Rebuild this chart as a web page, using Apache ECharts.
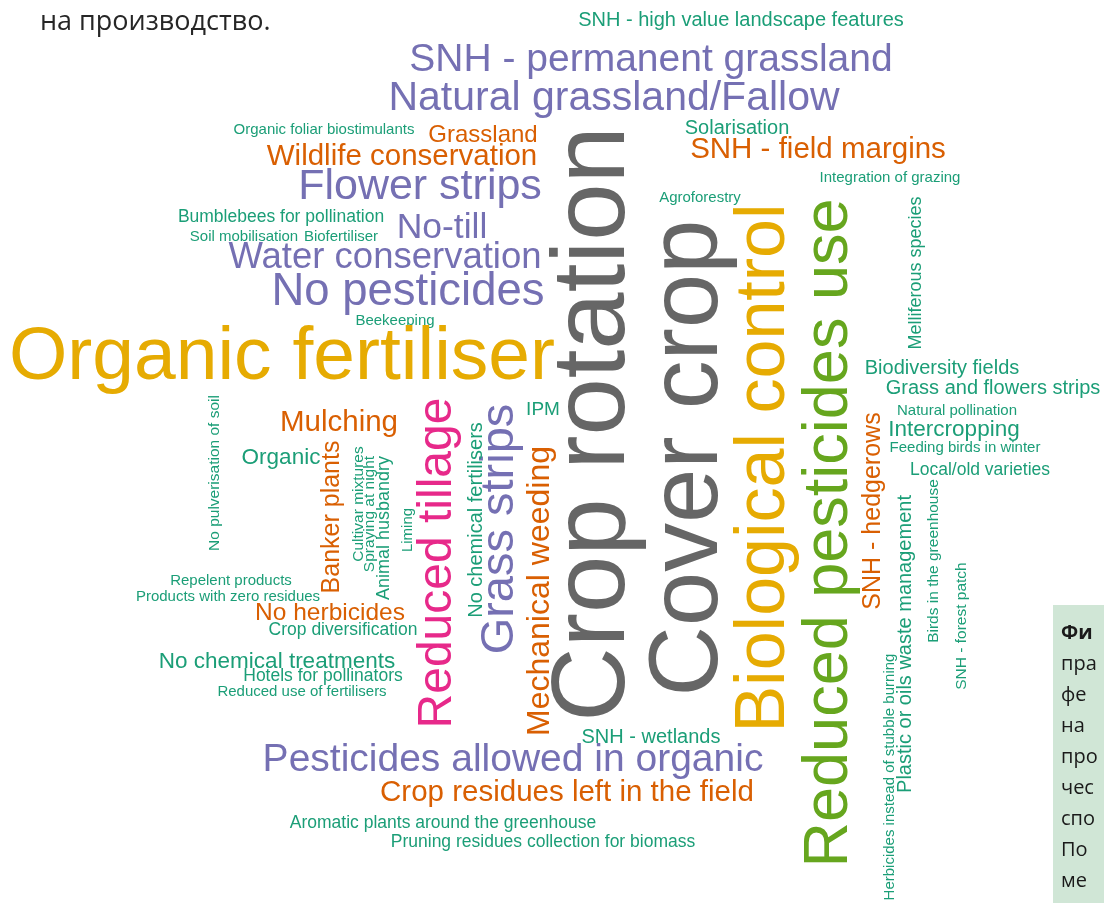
<!DOCTYPE html>
<html style="height: 100%">
<head>
<meta charset="utf-8">
</head>
<body style="height: 100%; margin: 0; background: #fff">
<div id="container" style="height: 903px; width: 1104px"></div>
<script src="https://cdn.jsdelivr.net/npm/echarts@6/dist/echarts.min.js"></script>
<script>
// word cloud terms; position on the canvas grid, weight (= font size), orientation and colour group
var words = [
  'SNH - high value landscape features', 'SNH - permanent grassland', 'Natural grassland/Fallow',
  'Organic foliar biostimulants', 'Grassland', 'Wildlife conservation', 'Flower strips',
  'Bumblebees for pollination', 'Soil mobilisation', 'Biofertiliser', 'No-till',
  'Water conservation', 'No pesticides', 'Beekeeping', 'Organic fertiliser', 'Solarisation',
  'SNH - field margins', 'Integration of grazing', 'Agroforestry', 'Biodiversity fields',
  'Grass and flowers strips', 'Natural pollination', 'Intercropping', 'Feeding birds in winter',
  'Local/old varieties', 'IPM', 'Mulching', 'Organic', 'Repelent products',
  'Products with zero residues', 'No herbicides', 'Crop diversification', 'No chemical treatments',
  'Hotels for pollinators', 'Reduced use of fertilisers', 'SNH - wetlands',
  'Pesticides allowed in organic', 'Crop residues left in the field',
  'Aromatic plants around the greenhouse', 'Pruning residues collection for biomass',
  'Crop rotation', 'Cover crop', 'Biological control', 'Reduced pesticides use', 'Reduced tillage',
  'Grass strips', 'Mechanical weeding', 'No chemical fertilisers', 'Liming', 'Banker plants',
  'Cultivar mixtures', 'Spraying at night', 'Animal husbandry', 'No pulverisation of soil',
  'Melliferous species', 'SNH - hedgerows', 'Plastic or oils waste management',
  'Herbicides instead of stubble burning', 'Birds in the greenhouse', 'SNH - forest patch'
];
var posX = [
  741, 651, 614, 324, 483, 402, 420, 281, 244, 341, 442, 385, 408, 395, 282, 737, 818, 890, 700, 942,
  993, 957, 954, 965, 980, 543, 339, 281, 231, 228, 330, 343, 277, 323, 302, 651, 513, 567, 443, 543,
  596, 690, 765, 830, 438, 500, 540, 476, 408, 332, 359, 370, 384, 215, 916, 873, 905, 890, 934, 962
];
var posY = [
  20, 60, 99, 130, 135, 157, 187, 217, 237, 237, 228, 258, 292, 321, 358, 128, 150, 178, 198, 368,
  388, 411, 430, 448, 470, 410, 423, 458, 581, 597, 613, 630, 662, 676, 692, 737, 760, 793, 823, 842,
  424, 458, 468, 533, 563, 529, 591, 520, 530, 517, 504, 514, 528, 473, 273, 511, 644, 777, 561, 626
];
var weights = [
  20, 39, 41, 15, 24, 29.5, 43, 17.5, 15, 15, 35.5, 36.5, 45.5, 15, 75, 20, 29.5, 15, 15, 20,
  20, 15, 22.5, 15, 17.5, 19, 29.5, 22.5, 15, 15, 24.5, 17.5, 22.5, 17.5, 15, 20, 39, 29.5, 17.5, 17.5,
  103, 97.5, 70, 63, 48, 47, 32, 20, 15, 25, 15.5, 15.5, 18, 15.5, 18, 25, 20, 15, 15.5, 15.5
];
// 1 = rotated, reads bottom to top
var vertical = [
  0, 0, 0, 0, 0, 0, 0, 0, 0, 0, 0, 0, 0, 0, 0, 0, 0, 0, 0, 0,
  0, 0, 0, 0, 0, 0, 0, 0, 0, 0, 0, 0, 0, 0, 0, 0, 0, 0, 0, 0,
  1, 1, 1, 1, 1, 1, 1, 1, 1, 1, 1, 1, 1, 1, 1, 1, 1, 1, 1, 1
];
// 0 teal, 1 orange, 2 purple, 3 pink, 4 green, 5 yellow, 6 grey
var groups = [
  0, 2, 2, 0, 1, 1, 2, 0, 0, 0, 2, 2, 2, 0, 5, 0, 1, 0, 0, 0,
  0, 0, 0, 0, 0, 0, 1, 0, 0, 0, 1, 0, 0, 0, 0, 0, 2, 1, 0, 0,
  6, 6, 5, 4, 3, 2, 1, 0, 0, 1, 0, 0, 0, 0, 0, 1, 0, 0, 0, 0
];
var palette = ['#1B9E77', '#D95F02', '#7570B3', '#E7298A', '#66A61E', '#E6AB02', '#666666'];

// cut-off caption on the right edge of the page
var captionLines = ['Фи', 'пра', 'фе', 'на', 'про', 'чес', 'спо', 'По', 'ме'];

var dom = document.getElementById('container');
var myChart = echarts.init(dom);

var cloud = words.map(function (w, i) {
  return {
    name: w,
    value: [posX[i], posY[i], weights[i]],
    label: {
      fontSize: weights[i],
      rotate: vertical[i] ? 90 : 0,
      color: palette[groups[i]]
    }
  };
});

var graphics = [
  {
    type: 'text', x: 40, y: 22,
    style: { text: 'на производство.', fontSize: 27, fontFamily: 'Open Sans', fill: '#262626', verticalAlign: 'middle' }
  },
  {
    type: 'rect', shape: { x: 1053, y: 605, width: 60, height: 300 },
    style: { fill: '#D0E6D6' }
  }
];
captionLines.forEach(function (t, i) {
  graphics.push({
    type: 'text', x: 1061, y: 633 + i * 31,
    style: {
      text: t, fontSize: 20, fontFamily: 'Open Sans', fill: '#1a1a1a',
      fontWeight: i === 0 ? 'bold' : 'normal', verticalAlign: 'middle'
    }
  });
});

var option = {
  backgroundColor: '#ffffff',
  animation: false,
  grid: { left: 0, right: 0, top: 0, bottom: 0 },
  xAxis: { type: 'value', min: 0, max: 1104, show: false },
  yAxis: { type: 'value', min: 0, max: 903, inverse: true, show: false },
  graphic: graphics,
  series: [
    {
      type: 'scatter',
      silent: true,
      symbolSize: 1,
      itemStyle: { color: 'rgba(0,0,0,0)', opacity: 1 },
      label: {
        show: true,
        position: 'inside',
        formatter: '{b}',
        fontFamily: 'Liberation Sans',
        align: 'center',
        verticalAlign: 'middle',
        opacity: 1
      },
      data: cloud
    }
  ]
};

myChart.setOption(option, true);
</script>
</body>
</html>
